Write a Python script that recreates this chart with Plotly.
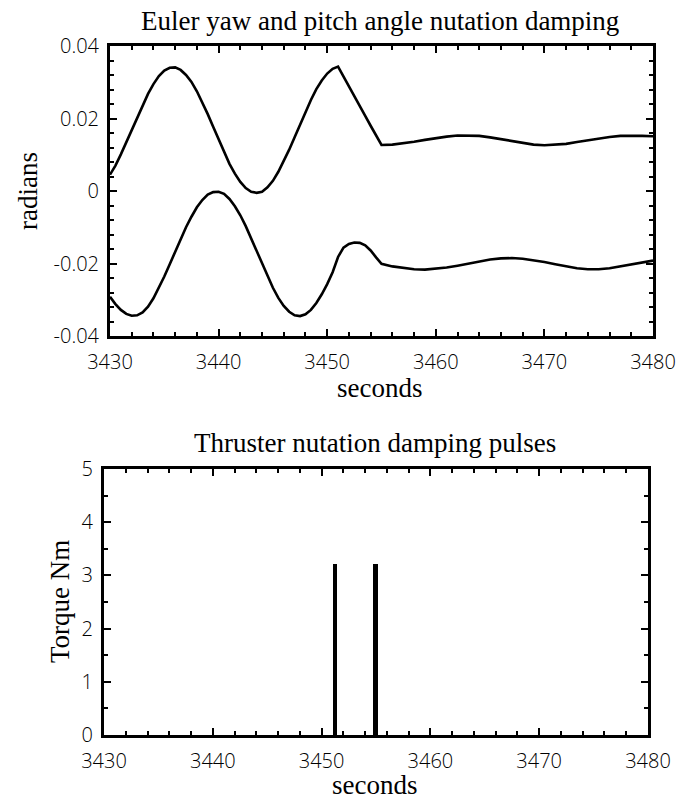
import plotly.graph_objects as go

# ---------------- data ----------------
t_fast = [3430.0, 3430.5, 3431.0, 3431.5, 3432.0, 3432.5, 3433.0, 3433.5, 3434.0, 3434.5,
          3435.0, 3435.5, 3436.0, 3436.5, 3437.0, 3437.5, 3438.0, 3438.5, 3439.0, 3439.5,
          3440.0, 3440.5, 3441.0, 3441.5, 3442.0, 3442.5, 3443.0, 3443.5, 3444.0, 3444.5,
          3445.0, 3445.5, 3446.0, 3446.5, 3447.0, 3447.5, 3448.0, 3448.5, 3449.0, 3449.5,
          3450.0, 3450.5, 3451.0, 3451.5, 3452.0, 3452.5, 3453.0, 3453.5, 3454.0, 3454.5,
          3455.0]
t_slow = [3456, 3457, 3458, 3459, 3460, 3461, 3462, 3463, 3464, 3465, 3466, 3467, 3468,
          3469, 3470, 3471, 3472, 3473, 3474, 3475, 3476, 3477, 3478, 3479, 3480]

yaw_fast = [0.0045, 0.0070, 0.0101, 0.0134, 0.0168, 0.0203, 0.0237, 0.0268, 0.0295, 0.0317,
            0.0332, 0.0340, 0.0341, 0.0334, 0.0320, 0.0301, 0.0275, 0.0245, 0.0212, 0.0177,
            0.0142, 0.0107, 0.0075, 0.0048, 0.0025, 0.0008, -0.0002, -0.0005, -0.0002, 0.0010,
            0.0028, 0.0053, 0.0082, 0.0114, 0.0148, 0.0184, 0.0219, 0.0251, 0.0281, 0.0305,
            0.0324, 0.0337, 0.0343, 0.0315, 0.0288, 0.0261, 0.0234, 0.0207, 0.0180, 0.0153,
            0.0127]
yaw_slow = [0.0128, 0.0131, 0.0136, 0.0141, 0.0146, 0.0150, 0.0153, 0.0153, 0.0152, 0.0148,
            0.0143, 0.0137, 0.0132, 0.0128, 0.0126, 0.0127, 0.0130, 0.0135, 0.0140, 0.0145,
            0.0149, 0.0152, 0.0153, 0.0152, 0.0151]

pitch_fast = [-0.0292, -0.0312, -0.0328, -0.0339, -0.0344, -0.0343, -0.0335, -0.0319, -0.0296, -0.0268,
              -0.0236, -0.0202, -0.0167, -0.0133, -0.0100, -0.0071, -0.0045, -0.0025, -0.0010, -0.0003,
              -0.0002, -0.0008, -0.0022, -0.0042, -0.0067, -0.0097, -0.0131, -0.0166, -0.0201, -0.0235,
              -0.0267, -0.0295, -0.0317, -0.0333, -0.0343, -0.0345, -0.0340, -0.0328, -0.0309, -0.0285,
              -0.0257, -0.0224, -0.0182, -0.0156, -0.0146, -0.0142, -0.0143, -0.0150, -0.0164, -0.0183,
              -0.0201]
pitch_slow = [-0.0208, -0.0213, -0.0216, -0.0217, -0.0215, -0.0211, -0.0206, -0.0200, -0.0194, -0.0189,
              -0.0186, -0.0185, -0.0187, -0.0191, -0.0196, -0.0202, -0.0208, -0.0213, -0.0216, -0.0216,
              -0.0213, -0.0208, -0.0202, -0.0197, -0.0192]

pulse_times = [3451.2, 3454.95]
pulse_torque = [3.22, 3.22]

x_tickvals = [3430, 3440, 3450, 3460, 3470, 3480]
x_ticktext = ["3430", "3440", "3450", "3460", "3470", "3480"]
y1_tickvals = [-0.04, -0.02, 0, 0.02, 0.04]
y1_ticktext = ["-0.04", "-0.02", "0", "0.02", "0.04"]
y2_tickvals = [0, 1, 2, 3, 4, 5]
y2_ticktext = ["0", "1", "2", "3", "4", "5"]

title_top = "Euler yaw and pitch angle nutation damping"
title_bottom = "Thruster nutation damping pulses"
ylabel_top = "radians"
ylabel_bottom = "Torque Nm"
xlabel = "seconds"

# ---------------- figure ----------------
W, H = 694, 800
SERIF = "Liberation Serif, Times New Roman, serif"
SANS = "Open Sans, DejaVu Sans, sans-serif"

fig = go.Figure()
line = dict(color="black", width=2.6)
fig.add_trace(go.Scatter(x=t_fast + t_slow, y=yaw_fast + yaw_slow, mode="lines",
                         line=line, xaxis="x", yaxis="y", showlegend=False))
fig.add_trace(go.Scatter(x=t_fast + t_slow, y=pitch_fast + pitch_slow, mode="lines",
                         line=line, xaxis="x", yaxis="y", showlegend=False))
fig.add_trace(go.Bar(x=pulse_times, y=pulse_torque, width=0.38,
                     marker=dict(color="black", line=dict(width=0)),
                     xaxis="x2", yaxis="y2", showlegend=False))

tickfont = dict(family=SANS, size=20, color="black", weight=300)

def xax(domain, anchor):
    return dict(domain=domain, anchor=anchor, range=[3430, 3480], tickmode="array",
                tickvals=x_tickvals, ticktext=x_ticktext, ticks="inside", ticklen=7, tickwidth=2,
                tickcolor="black", showline=True, linecolor="black", linewidth=3, mirror="ticks",
                showgrid=False, zeroline=False, tickfont=tickfont, automargin=False,
                ticklabelstandoff=6,
                minor=dict(tick0=3430, dtick=2, ticks="inside", ticklen=4, tickwidth=2,
                           tickcolor="black", showgrid=False))

def yax(domain, anchor, rng, tv, tt, minor_dtick):
    return dict(domain=domain, anchor=anchor, range=rng, tickmode="array",
                tickvals=tv, ticktext=tt, ticks="inside", ticklen=7, tickwidth=2,
                tickcolor="black", showline=True, linecolor="black", linewidth=3, mirror="ticks",
                showgrid=False, zeroline=False, tickfont=tickfont, automargin=False,
                ticklabelstandoff=4,
                minor=dict(tick0=rng[0], dtick=minor_dtick, ticks="inside", ticklen=4, tickwidth=2,
                           tickcolor="black", showgrid=False))

fig.update_layout(
    template="none",
    width=W, height=H,
    margin=dict(l=0, r=0, t=0, b=0, pad=0, autoexpand=False),
    paper_bgcolor="white", plot_bgcolor="white",
    showlegend=False,
    xaxis=xax([110 / W, 653 / W], "y"),
    yaxis=yax([1 - 336 / H, 1 - 46 / H], "x", [-0.04, 0.04], y1_tickvals, y1_ticktext, 0.004),
    xaxis2=xax([104 / W, 648 / W], "y2"),
    yaxis2=yax([1 - 735 / H, 1 - 469 / H], "x2", [0, 5], y2_tickvals, y2_ticktext, 0.5),
    bargap=0,
)

def ann(text, x, y, angle=0):
    fig.add_annotation(text=text, x=x / W, y=1 - y / H, xref="paper", yref="paper",
                       xanchor="center", yanchor="middle", showarrow=False, textangle=angle,
                       font=dict(family=SERIF, size=27, color="black"))

ann(title_top, 380, 21)
ann(ylabel_top, 28, 191, -90)
ann(xlabel, 380, 388)
ann(title_bottom, 375, 443)
ann(ylabel_bottom, 60, 602, -90)
ann(xlabel, 374, 785)

fig.write_html("out.html", config={"displayModeBar": False},
               post_script="document.body.style.margin='0';")
